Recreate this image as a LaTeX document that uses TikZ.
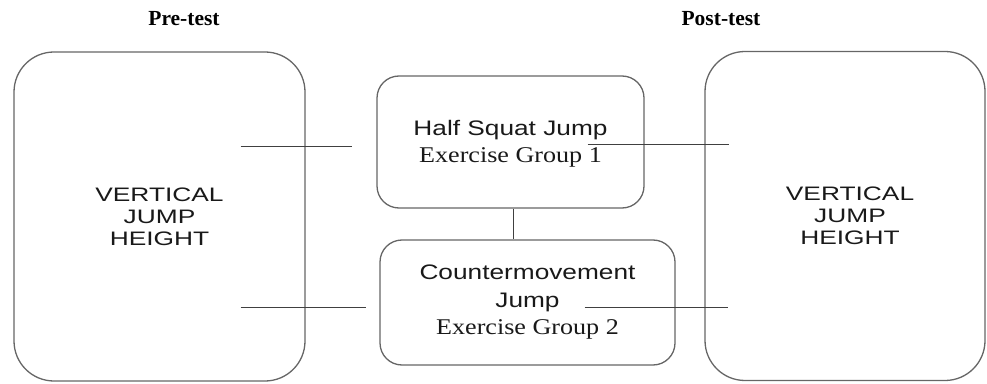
\documentclass[tikz,border=0pt]{standalone}
\usepackage{fontspec}
\usepackage{graphicx}
\setmainfont{Liberation Serif}
\setsansfont{Liberation Sans}

% stretch a line of text sideways
\newcommand{\xstretch}[2][1.2]{\scalebox{#1}[1]{#2}}

\begin{document}
\begin{tikzpicture}[x=1pt,y=1pt,
  bigbox/.style={draw=black!60, line width=1.3pt, rounded corners=40pt,
    minimum width=#1, minimum height=329pt, inner sep=0pt},
  groupbox/.style={draw=black!60, line width=1.3pt, rounded corners=22pt, inner sep=0pt},
  bigtext/.style={font=\sffamily\fontsize{19.5}{22}\selectfont, align=center, text=black!90},
  grouptext/.style={font=\sffamily\fontsize{21}{27.5}\selectfont, align=center, text=black!90},
  heading/.style={font=\rmfamily\bfseries\fontsize{21.5}{26}\selectfont},
  link/.style={draw=black!75, line width=0.8pt}]

\useasboundingbox (0,0) rectangle (987,383);

% Draw the test boxes
\node[bigbox=291pt] (pre) at (159.5,166.5) {};
\node[bigbox=280pt] (post) at (845,167) {};

% Draw the exercise group boxes
\node[groupbox, minimum width=267pt, minimum height=132pt] (hsj) at (510.5,241) {};
\node[groupbox, minimum width=295pt, minimum height=125pt] (cmj) at (527.5,80.5) {};

% Headings
\node[heading] (pretitle) at (184,364) {Pre-test};
\node[heading] (posttitle) at (721,364) {Post-test};

% Box texts
\node[bigtext] (pretxt) at (pre.center) {\xstretch[1.35]{VERTICAL}\\\xstretch[1.35]{JUMP}\\\xstretch[1.35]{HEIGHT}};
\node[bigtext] (posttxt) at ([xshift=5pt]post.center) {\xstretch[1.35]{VERTICAL}\\\xstretch[1.35]{JUMP}\\\xstretch[1.35]{HEIGHT}};
\node[grouptext] (hsjtxt) at ([yshift=-2pt]hsj.center) {\xstretch[1.25]{Half Squat Jump}\\{\rmfamily\fontsize{22.5}{27.5}\selectfont\xstretch[1.16]{Exercise Group 1}}};
\node[grouptext] (cmjtxt) at (cmj.center) {\xstretch[1.25]{Countermovement}\\\xstretch[1.25]{Jump}\\{\rmfamily\fontsize{22.5}{27.5}\selectfont\xstretch[1.16]{Exercise Group 2}}};

% Draw the connecting lines
\draw[link] ([xshift=-65pt,yshift=-4pt]pre.east |- hsj.west) -- ([xshift=-24pt,yshift=-4pt]hsj.west);
\draw[link] ([xshift=-57pt,yshift=-2pt]hsj.east) -- ([xshift=25pt,yshift=-2pt]post.west |- hsj.east);
\draw[link] ([xshift=-65pt,yshift=-4.5pt]pre.east |- cmj.west) -- ([xshift=-13pt,yshift=-4.5pt]cmj.west);
\draw[link] ([xshift=-91pt,yshift=-4.5pt]cmj.east) -- ([xshift=24pt,yshift=-4.5pt]post.west |- cmj.east);
\draw[link] ([xshift=2.5pt]hsj.south) -- ([xshift=2.5pt]hsj.south |- cmj.north);

\end{tikzpicture}
\end{document}
